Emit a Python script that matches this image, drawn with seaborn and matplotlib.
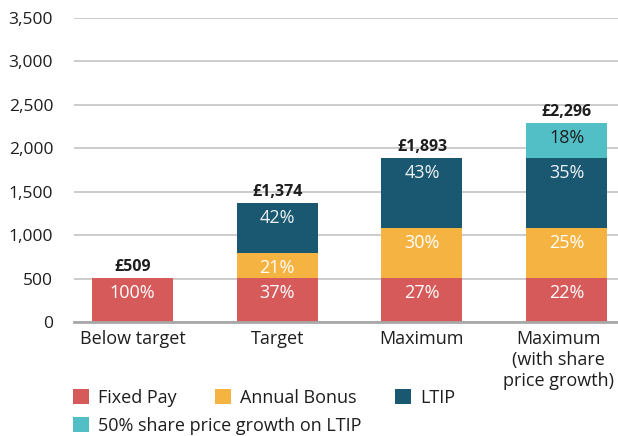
import matplotlib
matplotlib.use("Agg")
import matplotlib.pyplot as plt
import matplotlib.transforms as mtransforms
from matplotlib.patches import Patch
import seaborn as sns
import pandas as pd

# Remuneration scenarios (£000)
scenarios = ["Below target", "Target", "Maximum", "Maximum\n(with share\nprice growth)"]
fixed_pay = [509, 509, 509, 509]
annual_bonus = [0, 291, 572, 572]
ltip = [0, 574, 812, 812]
share_growth = [0, 0, 0, 403]

component_names = ["Fixed Pay", "Annual Bonus", "LTIP", "50% share price growth on LTIP"]
component_colors = ["#D65A59", "#F5B342", "#1A5872", "#52BEC6"]
label_colors = ["white", "white", "#EEF2F4", "#1E1E1E"]

y_ticks = [0, 500, 1000, 1500, 2000, 2500, 3000, 3500]

sns.set_theme(style="white")
plt.rcParams["font.family"] = ["Open Sans", "DejaVu Sans"]
TEXT = "#1E1E1E"
FS = 13

components = [fixed_pay, annual_bonus, ltip, share_growth]
df = pd.DataFrame({"scenario": scenarios})
running = [0] * len(scenarios)
tops = []
for name, vals in zip(component_names, components):
    running = [r + v for r, v in zip(running, vals)]
    tops.append(list(running))
    df[name] = running
totals = running

fig = plt.figure(figsize=(6.18, 4.36), dpi=100)
ax = fig.add_axes([74 / 618, 1 - 322 / 436, 1 - 74 / 618, (322 - 18) / 436])

# Stacked bars: draw cumulative heights back to front
for name, color in reversed(list(zip(component_names, component_colors))):
    sns.barplot(data=df, x="scenario", y=name, order=scenarios, color=color,
                width=0.56, saturation=1, ax=ax, zorder=3, errorbar=None,
                linewidth=0, edgecolor=color)

# Percentage labels near the top of each segment
for ci, vals in enumerate(components):
    for i, v in enumerate(vals):
        if v <= 0:
            continue
        pct = round(v / totals[i] * 100)
        ax.annotate(f"{pct}%", xy=(i, tops[ci][i]), xytext=(0, -11),
                    textcoords="offset points", ha="center", va="center",
                    fontsize=FS, color=label_colors[ci], zorder=5)

# Totals above each bar
for i, t in enumerate(totals):
    ax.annotate(f"£{t:,}", xy=(i, t), xytext=(0, 2), textcoords="offset points",
                ha="center", va="bottom", fontsize=11.5, fontweight="bold",
                color=TEXT, zorder=5)

ax.set_ylim(0, 3500)
ax.set_xlim(-0.405, 3.355)
ax.set_yticks(y_ticks)
ax.set_yticklabels([f"{v:,}" for v in y_ticks])
ax.yaxis.grid(True, color="#C4C4C4", linewidth=1.2, zorder=0)
ax.set_axisbelow(True)
for s in ["top", "right", "left"]:
    ax.spines[s].set_visible(False)
ax.spines["bottom"].set_color("#A8A8A8")
ax.spines["bottom"].set_linewidth(2)
ax.spines["bottom"].set_zorder(4)
ax.tick_params(axis="y", length=0, pad=15, labelsize=12.5, labelcolor=TEXT)
ax.tick_params(axis="x", length=0, pad=6, labelsize=FS, labelcolor=TEXT)
for lbl in ax.get_xticklabels():
    lbl.set_linespacing(1.22)
# nudge the three-line label left so it stays inside the figure
last = ax.get_xticklabels()[-1]
last.set_transform(last.get_transform() +
                   mtransforms.ScaledTranslation(-6 / 72, 0, fig.dpi_scale_trans))
ax.set_xlabel("")
ax.set_ylabel("")

handles = [Patch(facecolor=c, edgecolor="none", label=n)
           for n, c in zip(component_names, component_colors)]
leg_kw = dict(frameon=False, fontsize=FS, handlelength=0.9, handleheight=0.9,
              handletextpad=0.5, columnspacing=2.1, borderpad=0,
              borderaxespad=0, labelcolor=TEXT, loc="center left")
leg1 = fig.legend(handles=handles[:3], ncol=3,
                  bbox_to_anchor=(73 / 618, 1 - 398 / 436), **leg_kw)
leg2 = fig.legend(handles=handles[3:], ncol=1,
                  bbox_to_anchor=(73 / 618, 1 - 426 / 436), **leg_kw)

fig.savefig("out.png", dpi=100)
